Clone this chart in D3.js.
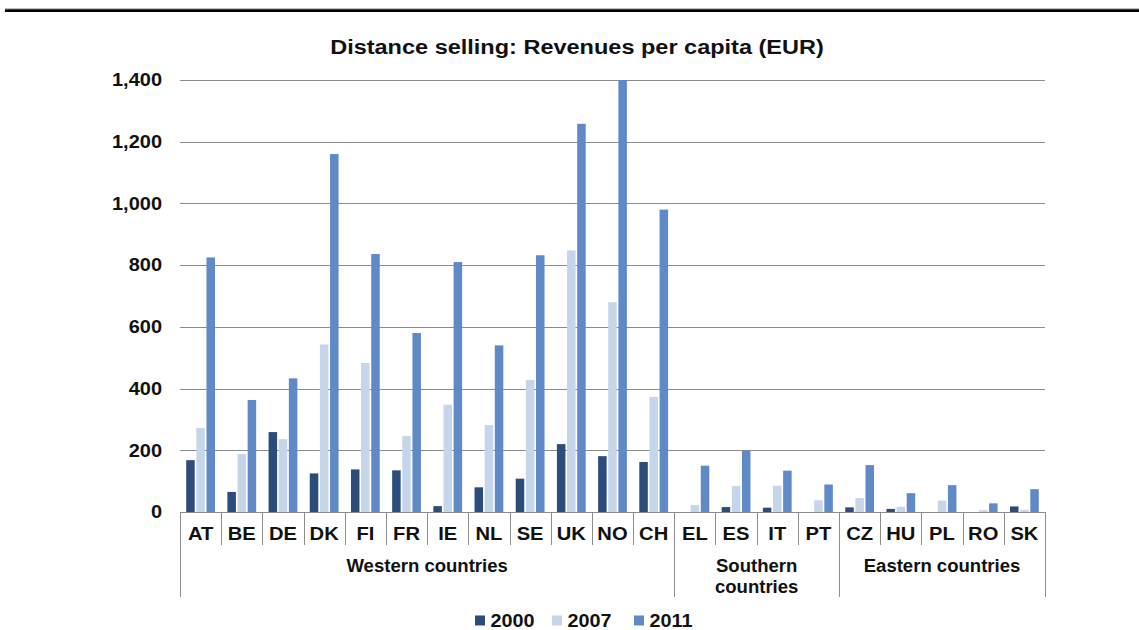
<!DOCTYPE html>
<html><head><meta charset="utf-8">
<script src="https://cdn.jsdelivr.net/npm/d3@7"></script>
<style>body{margin:0;background:#fff}svg{display:block;font-family:"Liberation Sans",Arial,sans-serif;font-weight:bold}</style>
</head><body><svg id="c" width="1139" height="630"></svg>
<script>
const countries = ["AT","BE","DE","DK","FI","FR","IE","NL","SE","UK","NO","CH","EL","ES","IT","PT","CZ","HU","PL","RO","SK"];
const groups = [
  {name:["Western countries"], start:0, end:12},
  {name:["Southern","countries"], start:12, end:16},
  {name:["Eastern countries"], start:16, end:21}
];
const seriesNames = ["2000","2007","2011"];
const v2000 = [168,65,259,125,138,135,19,80,108,220,181,162,0,16,14,0,15,10,0,0,18];
const v2007 = [272,188,236,543,483,246,348,282,428,848,680,373,23,84,85,38,45,17,37,6,7];
const v2011 = [825,363,433,1160,836,580,810,540,832,1258,1400,980,150,199,134,89,152,61,87,28,74];
const yTicks = [0,200,400,600,800,1000,1200,1400];
const colors = ["#2C4D7C","#C6D6EA","#6089C7"];
const title = "Distance selling: Revenues per capita (EUR)";

const svg = d3.select("#c");
const L = 180, R = 1045, T = 80, B = 512;
const x = d3.scaleBand().domain(countries).range([L,R]).paddingInner(0).paddingOuter(0);
const inner = d3.scaleBand().domain(seriesNames).range([6.2, x.bandwidth()-6.2]).paddingInner(0.16);
const y = d3.scaleLinear().domain([0,1400]).range([B,T]);

function stretch(sel, k){
  sel.each(function(){
    const w = this.getComputedTextLength();
    d3.select(this).attr("textLength", w*k).attr("lengthAdjust","spacingAndGlyphs");
  });
}

// top rule
svg.append("rect").attr("x",5).attr("y",9).attr("width",1134).attr("height",3).attr("fill","#000");
svg.append("line").attr("x1",5).attr("x2",1139).attr("y1",9).attr("y2",9).attr("stroke","#777").attr("stroke-width",1);

// title
svg.append("text").attr("x",577).attr("y",53.5).attr("text-anchor","middle").attr("font-size",20).attr("fill","#111").text(title)
  .call(stretch,1.175);

// gridlines
svg.append("g").selectAll("line").data(yTicks.slice(1)).join("line")
  .attr("x1",L).attr("x2",R).attr("y1",d=>Math.round(y(d))+0.5).attr("y2",d=>Math.round(y(d))+0.5)
  .attr("stroke","#8c8c8c").attr("stroke-width",1);

// y axis labels
const yAxis = d3.axisLeft(y).tickValues(yTicks).tickSize(0).tickPadding(18).tickFormat(d3.format(","));
const ya = svg.append("g").attr("transform",`translate(${L},0)`).call(yAxis);
ya.select(".domain").remove();
ya.selectAll("text").attr("font-size",18).attr("font-weight","bold").attr("fill","#111").attr("font-family","Liberation Sans, Arial, sans-serif")
  .call(stretch,1.11);

// bars
const series = [v2000,v2007,v2011];
series.forEach((vals,si)=>{
  svg.append("g").selectAll("rect").data(countries.map((c,i)=>({c,v:vals[i]}))).join("rect")
    .attr("x",d=>x(d.c)+inner(seriesNames[si]))
    .attr("width",inner.bandwidth())
    .attr("y",d=>y(d.v))
    .attr("height",d=>B-y(d.v))
    .attr("fill",colors[si]);
});

// x axis baseline
svg.append("line").attr("x1",L).attr("x2",R).attr("y1",B+0.5).attr("y2",B+0.5).attr("stroke","#8c8c8c");

// category ticks
const bounds = d3.range(countries.length+1).map(i=>L + i*x.step());
const groupBounds = new Set(groups.flatMap(g=>[g.start,g.end]));
svg.append("g").selectAll("line").data(bounds.map((b,i)=>({b,i}))).join("line")
  .attr("x1",d=>Math.round(d.b)+0.5).attr("x2",d=>Math.round(d.b)+0.5)
  .attr("y1",B).attr("y2",d=>groupBounds.has(d.i)?597:545)
  .attr("stroke","#8c8c8c");

// category labels
svg.append("g").selectAll("text").data(countries).join("text")
  .attr("x",d=>x(d)+x.bandwidth()/2).attr("y",540).attr("text-anchor","middle")
  .attr("font-size",18).attr("fill","#111").text(d=>d)
  .call(stretch,1.12);

// group labels
groups.forEach(g=>{
  const cx = (bounds[g.start]+bounds[g.end])/2;
  g.name.forEach((line,li)=>{
    svg.append("text").attr("x",cx).attr("y",572+li*21).attr("text-anchor","middle")
      .attr("font-size",18).attr("fill","#111").text(line)
      .call(stretch,1.03);
  });
});

// legend
const legX = [475,552,634];
seriesNames.forEach((s,i)=>{
  svg.append("rect").attr("x",legX[i]).attr("y",615.5).attr("width",10).attr("height",10).attr("fill",colors[i]);
  svg.append("text").attr("x",legX[i]+15.5).attr("y",627).attr("font-size",18).attr("fill","#111").text(s)
    .call(stretch,1.1);
});
</script></body></html>
